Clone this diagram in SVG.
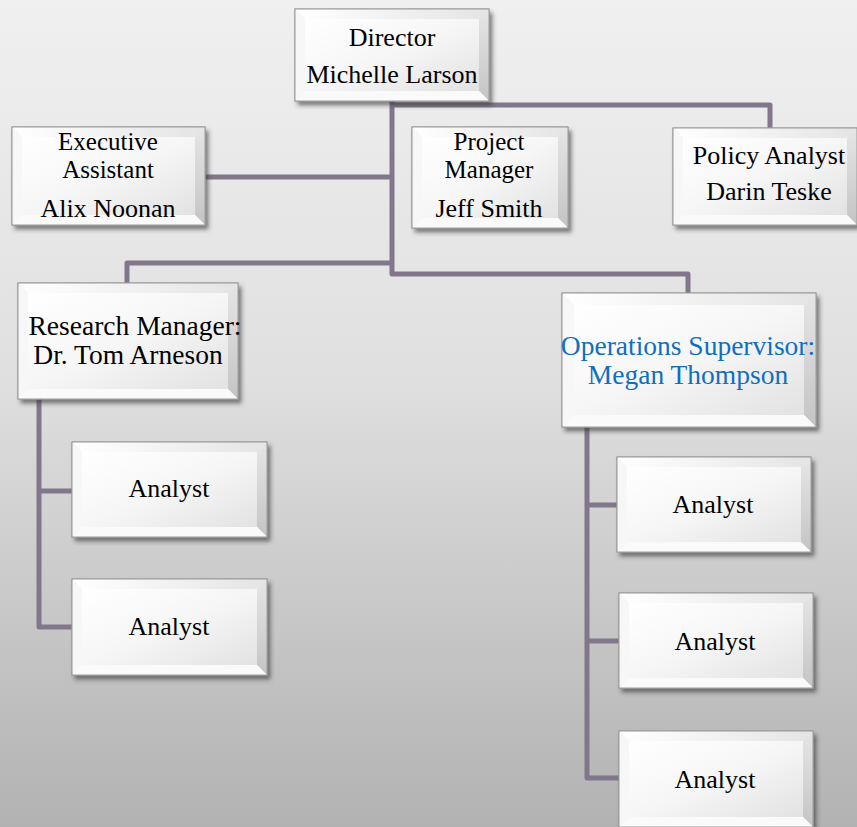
<svg xmlns="http://www.w3.org/2000/svg" width="857" height="827" viewBox="0 0 857 827">
<defs>
<linearGradient id="bg" x1="0" y1="0" x2="0" y2="1">
<stop offset="0" stop-color="#f0f0f0"/>
<stop offset="0.45" stop-color="#e0e0e0"/>
<stop offset="1" stop-color="#b2b2b2"/>
</linearGradient>
<linearGradient id="face" x1="0" y1="0" x2="1" y2="1">
<stop offset="0" stop-color="#ffffff"/>
<stop offset="0.5" stop-color="#f6f6f6"/>
<stop offset="1" stop-color="#e2e2e2"/>
</linearGradient>
<linearGradient id="rb" x1="0" y1="0" x2="0" y2="1">
<stop offset="0" stop-color="#e6e6e6"/>
<stop offset="1" stop-color="#c4c4c4"/>
</linearGradient>
<linearGradient id="tb" x1="0" y1="0" x2="1" y2="0">
<stop offset="0" stop-color="#ffffff"/>
<stop offset="1" stop-color="#e4e4e4"/>
</linearGradient>
<filter id="sh" x="-10%" y="-10%" width="125%" height="130%">
<feDropShadow dx="3" dy="4" stdDeviation="2" flood-color="#303030" flood-opacity="0.6"/>
</filter>
</defs>
<style>
.base{fill:#eeeeee;stroke:#9a9a9a;stroke-width:1;filter:url(#sh)}
.t{fill:url(#tb)}
.l{fill:#f7f7f7}
.r{fill:url(#rb)}
.b{fill:#fafafa}
.f{fill:url(#face)}
.edge{fill:none;stroke:#9a9a9a;stroke-width:1}
text{font-family:"Liberation Serif","Times New Roman",serif;font-size:26px;fill:#000;text-anchor:middle}
.sm{font-size:25px}
.big{font-size:27.5px}
.blue{fill:#0f6fc0}
.con{fill:none;stroke:#82778a;stroke-width:5;stroke-linejoin:round}
</style>
<rect width="857" height="827" fill="url(#bg)"/>

<g id="connectors">
<path class="con" d="M392,101 V274 H688 V293"/>
<path class="con" d="M392,263 H127 V283"/>
<path class="con" d="M205,177 H392"/>
<path class="con" d="M392,105 H770 V128"/>
<path class="con" d="M39,399 V627 H72 M39,491 H72"/>
<path class="con" d="M587,427 V778 H619 M587,505 H617 M587,641 H619"/>
</g>

<g id="director">
<rect class="base" x="295" y="9" width="194" height="92"/>
<polygon class="t" points="295,9 489,9 479,19 305,19"/>
<polygon class="l" points="295,9 305,19 305,91 295,101"/>
<polygon class="r" points="489,9 489,101 479,91 479,19"/>
<polygon class="b" points="295,101 489,101 479,91 305,91"/>
<rect class="f" x="305" y="19" width="174" height="72"/>
<rect class="edge" x="295" y="9" width="194" height="92"/>
<text x="392" y="46">Director</text>
<text x="392" y="83">Michelle Larson</text>
</g>

<g id="exec-assistant">
<rect class="base" x="12" y="127" width="193" height="98"/>
<polygon class="t" points="12,127 205,127 195,137 22,137"/>
<polygon class="l" points="12,127 22,137 22,215 12,225"/>
<polygon class="r" points="205,127 205,225 195,215 195,137"/>
<polygon class="b" points="12,225 205,225 195,215 22,215"/>
<rect class="f" x="22" y="137" width="173" height="78"/>
<rect class="edge" x="12" y="127" width="193" height="98"/>
<text class="sm" x="108" y="150">Executive</text>
<text class="sm" x="108" y="178">Assistant</text>
<text x="108" y="217">Alix Noonan</text>
</g>

<g id="project-manager">
<rect class="base" x="412" y="127" width="156" height="101"/>
<polygon class="t" points="412,127 568,127 558,137 422,137"/>
<polygon class="l" points="412,127 422,137 422,218 412,228"/>
<polygon class="r" points="568,127 568,228 558,218 558,137"/>
<polygon class="b" points="412,228 568,228 558,218 422,218"/>
<rect class="f" x="422" y="137" width="136" height="81"/>
<rect class="edge" x="412" y="127" width="156" height="101"/>
<text class="sm" x="489" y="150">Project</text>
<text class="sm" x="489" y="178">Manager</text>
<text x="489" y="217">Jeff Smith</text>
</g>

<g id="policy-analyst">
<rect class="base" x="673" y="128" width="184" height="97"/>
<polygon class="t" points="673,128 857,128 847,138 683,138"/>
<polygon class="l" points="673,128 683,138 683,215 673,225"/>
<polygon class="r" points="857,128 857,225 847,215 847,138"/>
<polygon class="b" points="673,225 857,225 847,215 683,215"/>
<rect class="f" x="683" y="138" width="164" height="77"/>
<rect class="edge" x="673" y="128" width="184" height="97"/>
<text x="769" y="164">Policy Analyst</text>
<text x="769" y="200">Darin Teske</text>
</g>

<g id="research-manager">
<rect class="base" x="18" y="283" width="220" height="116"/>
<polygon class="t" points="18,283 238,283 228,293 28,293"/>
<polygon class="l" points="18,283 28,293 28,389 18,399"/>
<polygon class="r" points="238,283 238,399 228,389 228,293"/>
<polygon class="b" points="18,399 238,399 228,389 28,389"/>
<rect class="f" x="28" y="293" width="200" height="96"/>
<rect class="edge" x="18" y="283" width="220" height="116"/>
<text class="big" x="135" y="335">Research Manager:</text>
<text class="big" x="128" y="364">Dr. Tom Arneson</text>
</g>

<g id="operations-supervisor">
<rect class="base" x="562" y="293" width="254" height="134"/>
<polygon class="t" points="562,293 816,293 804,305 574,305"/>
<polygon class="l" points="562,293 574,305 574,415 562,427"/>
<polygon class="r" points="816,293 816,427 804,415 804,305"/>
<polygon class="b" points="562,427 816,427 804,415 574,415"/>
<rect class="f" x="574" y="305" width="230" height="110"/>
<rect class="edge" x="562" y="293" width="254" height="134"/>
<text class="big blue" x="688" y="355">Operations Supervisor:</text>
<text class="big blue" x="688" y="384">Megan Thompson</text>
</g>

<g id="analyst-r1">
<rect class="base" x="72" y="442" width="195" height="95"/>
<polygon class="t" points="72,442 267,442 257,452 82,452"/>
<polygon class="l" points="72,442 82,452 82,527 72,537"/>
<polygon class="r" points="267,442 267,537 257,527 257,452"/>
<polygon class="b" points="72,537 267,537 257,527 82,527"/>
<rect class="f" x="82" y="452" width="175" height="75"/>
<rect class="edge" x="72" y="442" width="195" height="95"/>
<text x="169" y="497">Analyst</text>
</g>

<g id="analyst-r2">
<rect class="base" x="72" y="579" width="195" height="96"/>
<polygon class="t" points="72,579 267,579 257,589 82,589"/>
<polygon class="l" points="72,579 82,589 82,665 72,675"/>
<polygon class="r" points="267,579 267,675 257,665 257,589"/>
<polygon class="b" points="72,675 267,675 257,665 82,665"/>
<rect class="f" x="82" y="589" width="175" height="76"/>
<rect class="edge" x="72" y="579" width="195" height="96"/>
<text x="169" y="635">Analyst</text>
</g>

<g id="analyst-o1">
<rect class="base" x="617" y="457" width="194" height="95"/>
<polygon class="t" points="617,457 811,457 801,467 627,467"/>
<polygon class="l" points="617,457 627,467 627,542 617,552"/>
<polygon class="r" points="811,457 811,552 801,542 801,467"/>
<polygon class="b" points="617,552 811,552 801,542 627,542"/>
<rect class="f" x="627" y="467" width="174" height="75"/>
<rect class="edge" x="617" y="457" width="194" height="95"/>
<text x="713" y="513">Analyst</text>
</g>

<g id="analyst-o2">
<rect class="base" x="619" y="593" width="194" height="95"/>
<polygon class="t" points="619,593 813,593 803,603 629,603"/>
<polygon class="l" points="619,593 629,603 629,678 619,688"/>
<polygon class="r" points="813,593 813,688 803,678 803,603"/>
<polygon class="b" points="619,688 813,688 803,678 629,678"/>
<rect class="f" x="629" y="603" width="174" height="75"/>
<rect class="edge" x="619" y="593" width="194" height="95"/>
<text x="715" y="650">Analyst</text>
</g>

<g id="analyst-o3">
<rect class="base" x="619" y="731" width="194" height="96"/>
<polygon class="t" points="619,731 813,731 803,741 629,741"/>
<polygon class="l" points="619,731 629,741 629,817 619,827"/>
<polygon class="r" points="813,731 813,827 803,817 803,741"/>
<polygon class="b" points="619,827 813,827 803,817 629,817"/>
<rect class="f" x="629" y="741" width="174" height="76"/>
<rect class="edge" x="619" y="731" width="194" height="96"/>
<text x="715" y="788">Analyst</text>
</g>
</svg>
